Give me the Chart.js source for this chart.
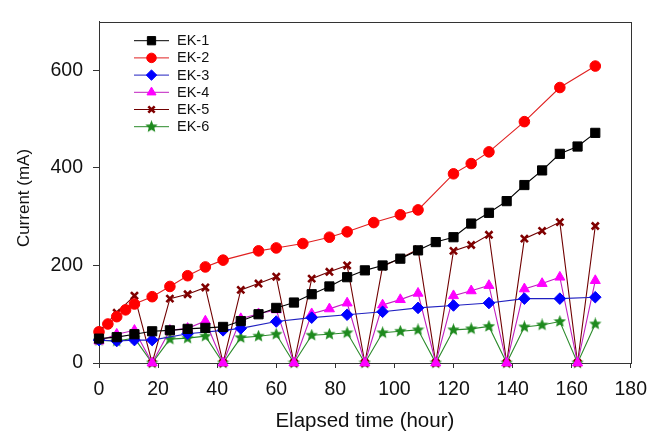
<!DOCTYPE html>
<html>
<head>
<meta charset="utf-8">
<script src="https://cdn.jsdelivr.net/npm/chart.js@4.4.1/dist/chart.umd.min.js"></script>
<style>
  html, body { margin: 0; padding: 0; background: #fff; }
  #wrap { width: 657px; height: 435px; }
</style>
</head>
<body>
<div id="wrap"><canvas id="chart" width="657" height="435"></canvas></div>
<script>
// ---- data (time in hours, current in mA) ----
const labels = ['EK-1', 'EK-2', 'EK-3', 'EK-4', 'EK-5', 'EK-6'];

const hours6 = [0, 6, 12, 18, 24, 30, 36, 42, 48, 54, 60, 66, 72, 78, 84, 90, 96, 102, 108,
  114, 120, 126, 132, 138, 144, 150, 156, 162, 168];

const ek1 = [50, 53, 59, 65, 67, 70, 72, 74, 86, 100, 113, 124, 141, 157, 176, 190, 200, 214, 231,
  248, 258, 286, 308, 332, 365, 395, 429, 444, 472];

const ek2Hours = [0, 3, 6, 9, 12, 18, 24, 30, 36, 42, 54, 60, 69, 78, 84, 93, 102, 108, 120, 126,
  132, 144, 156, 168];
const ek2 = [64, 80, 95, 109, 121, 136, 157, 179, 197, 211, 230, 236, 245, 258, 269, 288, 304, 314,
  388, 409, 433, 495, 565, 609];

const ek3Hours = [0, 6, 12, 18, 30, 42, 48, 60, 72, 84, 96, 108, 120, 132, 144, 156, 168];
const ek3 = [47, 45, 47, 47, 60, 67, 71, 85, 93, 99, 105, 113, 118, 123, 132, 132, 135];

const ek4 = [45, 59, 67, 0, 67, 71, 86, 0, 91, 101, 109, 0, 101, 111, 123, 0, 119, 130, 143,
  0, 138, 148, 159, 0, 152, 163, 176, 0, 169];

const ek5 = [65, 103, 138, 0, 132, 141, 155, 0, 150, 163, 177, 0, 173, 187, 200, 0, 198, 215, 233,
  0, 230, 242, 263, 0, 255, 271, 289, 0, 281];

const ek6 = [46, 45, 51, 0, 49, 51, 55, 0, 52, 55, 59, 0, 57, 59, 62, 0, 62, 65, 68,
  0, 68, 70, 75, 0, 74, 78, 85, 0, 80];

const xTicks = [0, 20, 40, 60, 80, 100, 120, 140, 160, 180];
const yTicks = [0, 200, 400, 600];

const FONT = '"Liberation Sans", Arial, sans-serif';

// pair x and y arrays into points
function pts(xs, ys) {
  return xs.map((x, i) => ({ x: x, y: ys[i] }));
}

// filled five point star used for EK-6
function makeStar(size, color) {
  const c = document.createElement('canvas');
  c.width = size;
  c.height = size;
  const g = c.getContext('2d');
  const R = size / 2, r = R * 0.45;
  g.beginPath();
  for (let i = 0; i < 10; i++) {
    const a = -Math.PI / 2 + i * Math.PI / 5;
    const rr = i % 2 ? r : R;
    g.lineTo(R + rr * Math.cos(a), R + rr * Math.sin(a));
  }
  g.closePath();
  g.fillStyle = color;
  g.fill();
  return c;
}

const starImg = makeStar(13, '#1e8a1e');

function series(label, data, line, fill, style, radius, bw) {
  return {
    label: label,
    data: data,
    borderColor: line,
    borderWidth: 1.1,
    backgroundColor: fill,
    pointBackgroundColor: fill,
    pointBorderColor: fill,
    pointStyle: style,
    pointRadius: radius,
    pointHoverRadius: radius,
    pointBorderWidth: bw,
    tension: 0,
    clip: false
  };
}

const datasets = [
  series(labels[0], pts(hours6, ek1), '#000000', '#000000', 'rect', 6.5, 1),
  series(labels[1], pts(ek2Hours, ek2), '#e02020', '#ff0000', 'circle', 5.3, 1),
  series(labels[2], pts(ek3Hours, ek3), '#2020c0', '#0000ff', 'rectRot', 5.8, 1),
  series(labels[3], pts(hours6, ek4), '#c020c0', '#ff00ff', 'triangle', 5.8, 1),
  series(labels[4], pts(hours6, ek5), '#700000', '#800000', 'crossRot', 5, 2.6),
  series(labels[5], pts(hours6, ek6), '#2a8a2a', '#1e8a1e', starImg, 6, 1)
];

// legend drawn inside the plot: short line with the marker on it
const insideLegend = {
  id: 'insideLegend',
  afterDatasetsDraw(chart) {
    const ctx = chart.ctx;
    const x0 = 134, x1 = 169, top = 40.7, step = 17.2;
    ctx.save();
    chart.data.datasets.forEach((ds, i) => {
      const y = top + i * step;
      ctx.beginPath();
      ctx.strokeStyle = ds.borderColor;
      ctx.lineWidth = 1;
      ctx.moveTo(x0, y);
      ctx.lineTo(x1, y);
      ctx.stroke();
      ctx.fillStyle = ds.pointBackgroundColor;
      ctx.strokeStyle = ds.pointBorderColor;
      ctx.lineWidth = ds.pointBorderWidth;
      Chart.helpers.drawPoint(ctx, {
        pointStyle: ds.pointStyle,
        radius: ds.pointRadius * 0.9,
        rotation: 0,
        borderWidth: ds.pointBorderWidth
      }, (x0 + x1) / 2, y);
      ctx.fillStyle = '#111';
      ctx.font = '14.5px ' + FONT;
      ctx.textAlign = 'left';
      ctx.textBaseline = 'middle';
      ctx.fillText(ds.label, 177, y + 0.5);
    });
    ctx.restore();
  }
};

// box around the plot area plus the rotated y title
const frame = {
  id: 'frame',
  beforeDatasetsDraw(chart) {
    const a = chart.chartArea;
    const ctx = chart.ctx;
    ctx.save();
    ctx.strokeStyle = '#333';
    ctx.lineWidth = 1;
    ctx.strokeRect(Math.round(a.left) + 0.5, Math.round(a.top) + 0.5,
      Math.round(a.right - a.left), Math.round(a.bottom - a.top));
    ctx.translate(24, 198);
    ctx.rotate(-Math.PI / 2);
    ctx.font = '17px ' + FONT;
    ctx.fillStyle = '#111';
    ctx.textAlign = 'center';
    ctx.textBaseline = 'middle';
    ctx.fillText('Current (mA)', 0, 0);
    ctx.restore();
  }
};

const tickFont = { family: FONT, size: 19.5 };

new Chart(document.getElementById('chart'), {
  type: 'line',
  data: { datasets: datasets },
  options: {
    responsive: false,
    animation: false,
    layout: { padding: { top: 9, right: 18, left: 0, bottom: 0 } },
    plugins: {
      legend: { display: false },
      tooltip: { enabled: false }
    },
    scales: {
      x: {
        type: 'linear',
        min: 0,
        max: 180,
        afterBuildTicks: (scale) => { scale.ticks = xTicks.map(v => ({ value: v })); },
        afterFit: (scale) => { scale.height = 72; },
        ticks: { font: tickFont, color: '#111', padding: 10, maxRotation: 0 },
        grid: { drawOnChartArea: false, tickLength: 5, color: '#333' },
        border: { color: '#333', width: 1 },
        title: {
          display: true,
          text: 'Elapsed time (hour)',
          font: { family: FONT, size: 20.5 },
          color: '#111',
          padding: { top: 0, bottom: 1 }
        }
      },
      y: {
        min: 0,
        max: 700,
        afterBuildTicks: (scale) => { scale.ticks = yTicks.map(v => ({ value: v })); },
        afterFit: (scale) => { scale.width = 99; },
        ticks: { font: tickFont, color: '#111', padding: 10 },
        grid: { drawOnChartArea: false, tickLength: 6, color: '#333' },
        border: { color: '#333', width: 1 }
      }
    }
  },
  plugins: [frame, insideLegend]
});
</script>
</body>
</html>
